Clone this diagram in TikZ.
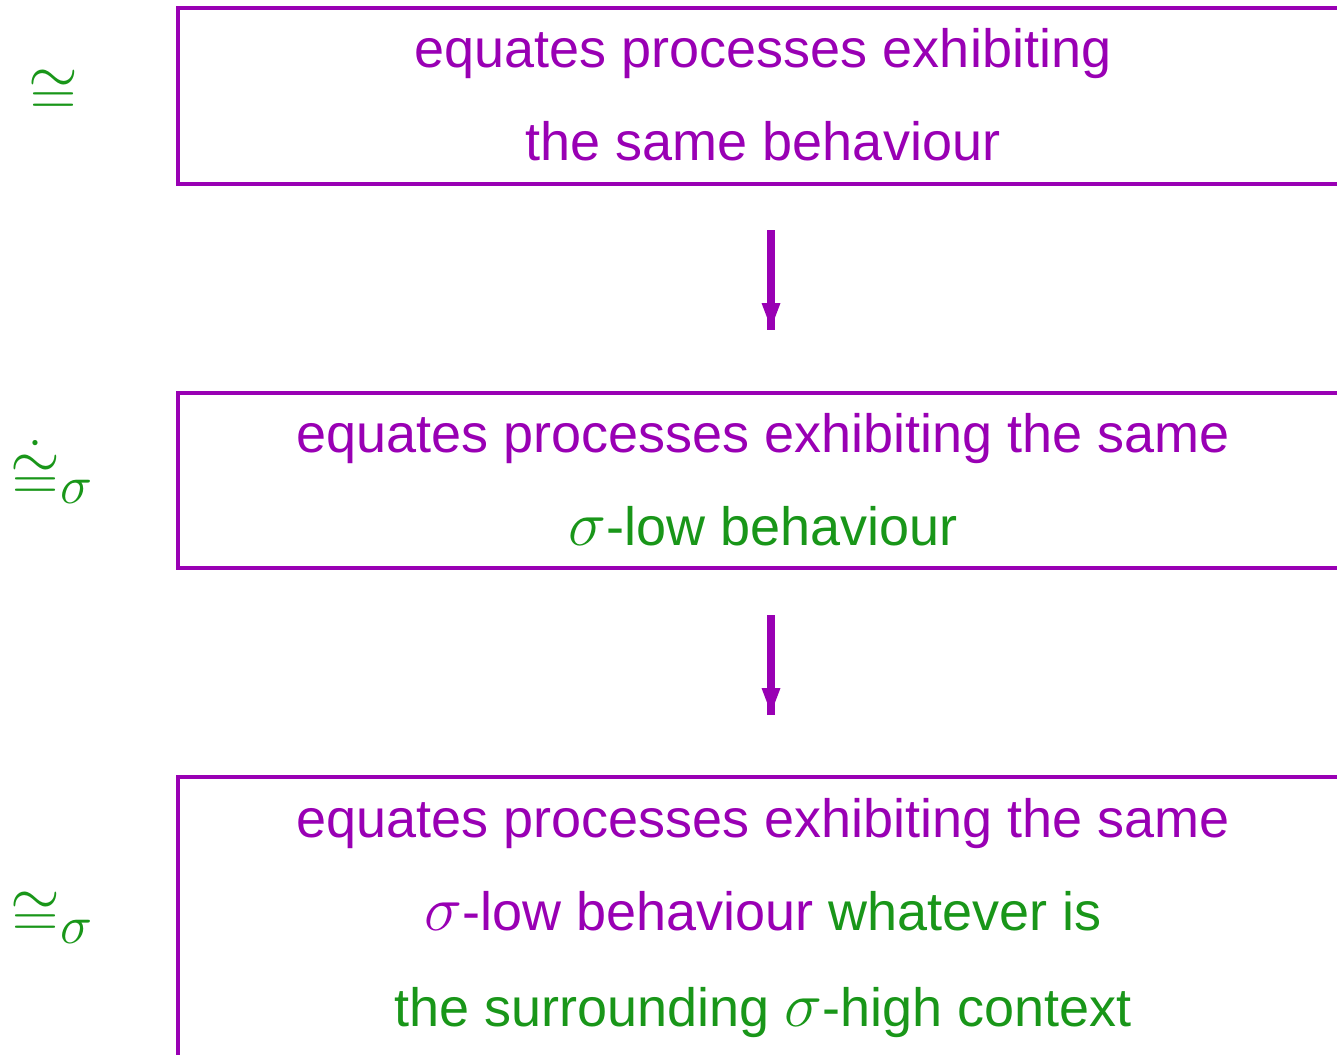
\RequirePackage{fix-cm}
\documentclass[tikz,border=0pt]{standalone}
\usepackage{fontspec}
\setmainfont{Liberation Sans}
\definecolor{pur}{RGB}{153,0,180}
\definecolor{grn}{RGB}{25,150,25}
\newcommand{\msig}{{\fontsize{32}{32}\selectfont$\sigma$}}
\newcommand{\subsig}[1]{\raisebox{#1}{\fontsize{27}{27}\selectfont$\sigma$}}
\begin{document}
\begin{tikzpicture}[x=0.5pt,y=-0.5pt,
  box/.style={draw=pur, line width=2pt, rectangle, minimum width=586pt, anchor=north west, inner sep=0pt, outer sep=0pt},
  txt/.style={anchor=base, inner sep=0pt, font=\fontsize{27}{30}\selectfont},
  sym/.style={anchor=base west, inner sep=0pt, text=grn, font=\fontsize{32}{32}\selectfont},
  shaft/.style={draw=pur, line width=4pt, line cap=butt},
  tip/.style={fill=pur}]
\useasboundingbox (0,0) rectangle (1337,1054);
\clip (0,0) rectangle (1337,1054);
% boxes
\node[box, minimum height=88pt] (b1) at (178,8) {};
\node[box, minimum height=87.5pt] (b2) at (178,393) {};
\node[box, minimum height=150pt] (b3) at (178,777) {};
% texts
\node[txt, text=pur] (t11) at (763,68) {equates processes exhibiting};
\node[txt, text=pur] (t12) at (763,160) {the same behaviour};
\node[txt, text=pur] (t21) at (763,452) {equates processes exhibiting the same};
\node[txt, text=grn] (t22) at (763,545) {\msig-low behaviour};
\node[txt, text=pur] (t31) at (763,837) {equates processes exhibiting the same};
\node[txt] (t32) at (763,930) {\textcolor{pur}{\msig-low behaviour} \textcolor{grn}{whatever is}};
\node[txt, text=grn] (t33) at (763,1026) {the surrounding \msig-high context};
% symbols
\node[sym] (s1) at (28.5,114) {$\cong$};
\node[sym] (s2) at (10.5,499) {$\dot{\cong}$\subsig{-2pt}};
\node[sym] (s3) at (10.5,936) {$\cong$\subsig{-3.5pt}};
% arrows
\path (b1.south) ++(7,46) coordinate (a1s);
\path (b2.north) ++(7,-63) coordinate (a1e);
\path (b2.south) ++(7,47) coordinate (a2s);
\path (b3.north) ++(7,-62) coordinate (a2e);
\draw[shaft] (a1s) -- (a1e);
\fill[tip] (a1e) ++(-9.5,-27) -- ++(19,0) -- ++(-9.5,25) -- cycle;
\draw[shaft] (a2s) -- (a2e);
\fill[tip] (a2e) ++(-9.5,-27) -- ++(19,0) -- ++(-9.5,25) -- cycle;
\end{tikzpicture}
\end{document}
